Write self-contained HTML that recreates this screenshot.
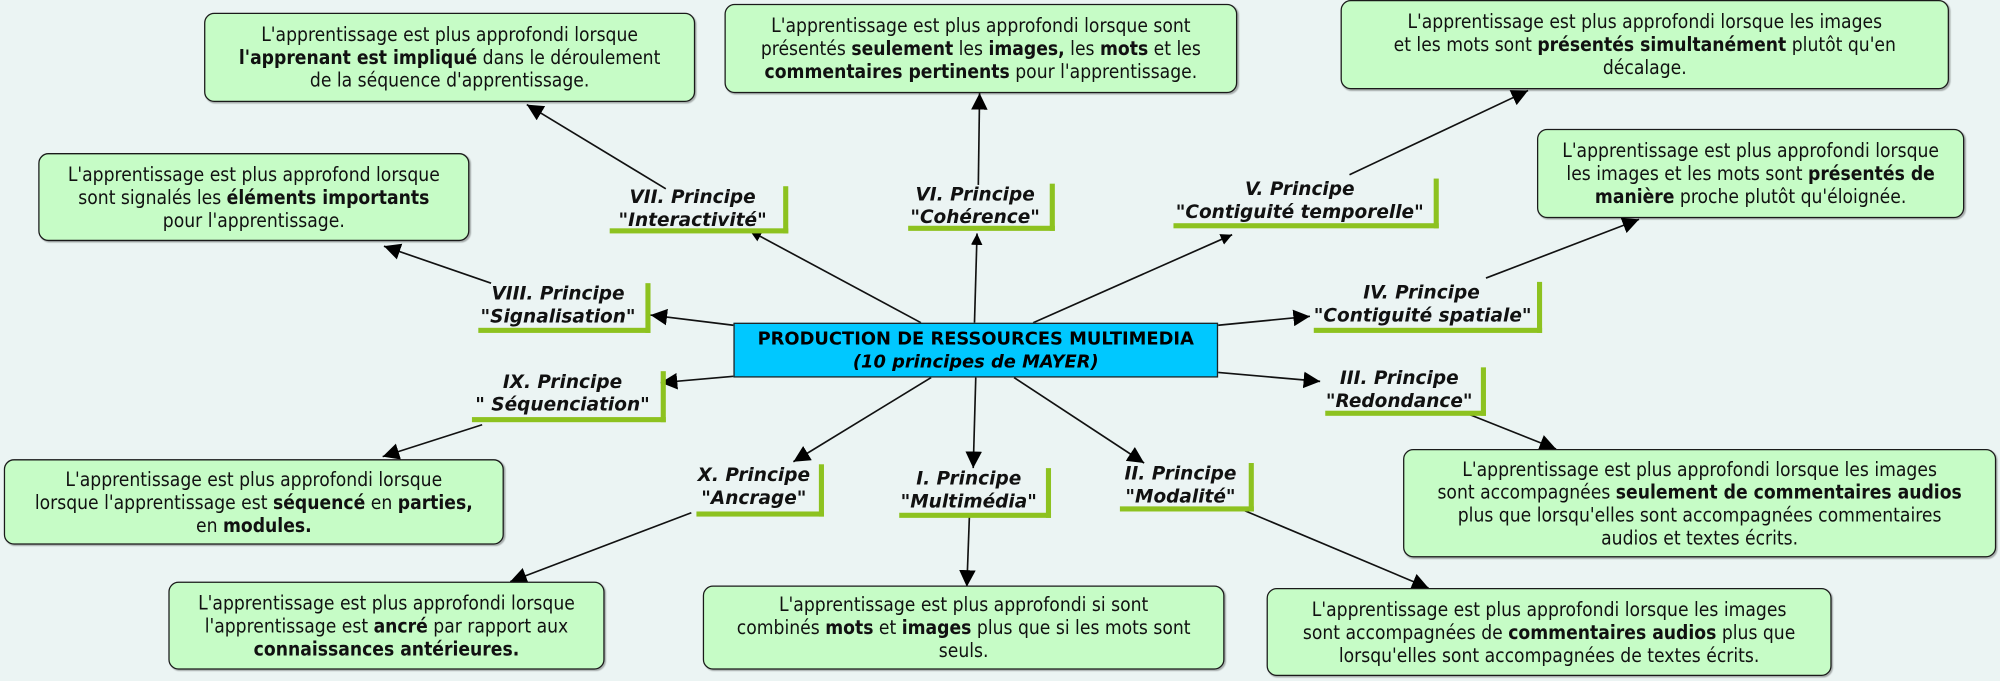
<!DOCTYPE html>
<html><head><meta charset="utf-8"><style>
html,body{margin:0;padding:0;background:#ebf4f3;}
#wrap{position:relative;width:1568px;height:534px;transform:scale(1.27551);transform-origin:0 0;overflow:hidden;}
.box{position:absolute;box-sizing:border-box;border:1.3px solid #1a1a1a;border-radius:8px;background:#c6fcc6;display:flex;align-items:center;justify-content:center;text-align:center;font-family:"DejaVu Sans Condensed","Liberation Sans Narrow","Liberation Sans",sans-serif;font-size:15px;line-height:18px;color:#111;white-space:nowrap;box-shadow:1px 1px 1px rgba(0,0,0,0.3);}
.lab{position:absolute;box-sizing:border-box;border-right:4px solid #8dc21f;border-bottom:4px solid #8dc21f;font-family:"DejaVu Sans","Liberation Sans",sans-serif;font-weight:bold;font-style:italic;font-size:14.5px;line-height:18px;text-align:center;color:#111;white-space:nowrap;padding-right:6px;}
#center{position:absolute;left:575px;top:253px;width:380px;height:43px;box-sizing:border-box;background:#00c8ff;border:1.3px solid #222;text-align:center;font-family:"DejaVu Sans","Liberation Sans",sans-serif;font-weight:bold;font-size:14px;line-height:18px;padding-top:3px;white-space:nowrap;}
svg{position:absolute;left:0;top:0;}
</style></head><body><div id="wrap">
<svg width="1568" height="534" viewBox="0 0 1568 534">
<defs><marker id="a" viewBox="0 0 10 10" refX="10" refY="5" markerWidth="9" markerHeight="9" markerUnits="userSpaceOnUse" orient="auto"><path d="M0,0 L10,5 L0,10z" fill="#000"/></marker>
<marker id="b" viewBox="0 0 10 10" refX="10" refY="5" markerWidth="13" markerHeight="13" markerUnits="userSpaceOnUse" orient="auto"><path d="M0,0 L10,5 L0,10z" fill="#000"/></marker></defs>
<g stroke="#111" stroke-width="1.3" fill="none">
<line x1="722" y1="253" x2="588" y2="181" marker-end="url(#a)"/>
<line x1="764" y1="253" x2="766" y2="183" marker-end="url(#a)"/>
<line x1="810" y1="253" x2="966" y2="184" marker-end="url(#a)"/>
<line x1="575" y1="255" x2="510" y2="247" marker-end="url(#b)"/>
<line x1="955" y1="255" x2="1027" y2="248" marker-end="url(#b)"/>
<line x1="575" y1="295" x2="518" y2="300" marker-end="url(#b)"/>
<line x1="955" y1="292" x2="1035" y2="299" marker-end="url(#b)"/>
<line x1="730" y1="296" x2="622" y2="362" marker-end="url(#b)"/>
<line x1="765" y1="296" x2="763" y2="367" marker-end="url(#b)"/>
<line x1="795" y1="296" x2="897" y2="363" marker-end="url(#b)"/>
<line x1="522" y1="148" x2="413" y2="82" marker-end="url(#b)"/>
<line x1="767" y1="145" x2="768" y2="73" marker-end="url(#b)"/>
<line x1="1058" y1="137" x2="1198" y2="71" marker-end="url(#b)"/>
<line x1="385" y1="222" x2="301" y2="193" marker-end="url(#b)"/>
<line x1="1165" y1="218" x2="1285" y2="172" marker-end="url(#b)"/>
<line x1="378" y1="333" x2="300" y2="358" marker-end="url(#b)"/>
<line x1="1152" y1="325" x2="1220" y2="352" marker-end="url(#b)"/>
<line x1="542" y1="402" x2="400" y2="456" marker-end="url(#b)"/>
<line x1="760" y1="405" x2="758" y2="460" marker-end="url(#b)"/>
<line x1="975" y1="400" x2="1120" y2="461" marker-end="url(#b)"/>
</g></svg>

<div class="box" style="left:160px;top:10px;width:385px;height:70px;"><div>L'apprentissage est plus approfondi lorsque<br><b>l'apprenant est impliqué</b> dans le déroulement<br>de la séquence d'apprentissage.</div></div>
<div class="box" style="left:568px;top:3px;width:402px;height:70px;"><div>L'apprentissage est plus approfondi lorsque sont<br>présentés <b>seulement</b> les <b>images,</b> les <b>mots</b> et les<br><b>commentaires pertinents</b> pour l'apprentissage.</div></div>
<div class="box" style="left:1051px;top:0px;width:477px;height:70px;"><div>L'apprentissage est plus approfondi lorsque les images<br>et les mots sont <b>présentés simultanément</b> plutôt qu'en<br>décalage.</div></div>
<div class="box" style="left:1205px;top:101px;width:335px;height:70px;"><div>L'apprentissage est plus approfondi lorsque<br>les images et les mots sont <b>présentés de<br>manière</b> proche plutôt qu'éloignée.</div></div>
<div class="box" style="left:30px;top:120px;width:338px;height:69px;"><div>L'apprentissage est plus approfond lorsque<br>sont signalés les <b>éléments importants</b><br>pour l'apprentissage.</div></div>
<div class="box" style="left:1100px;top:352px;width:465px;height:85px;"><div>L'apprentissage est plus approfondi lorsque les images<br>sont accompagnées <b>seulement de commentaires audios</b><br>plus que lorsqu'elles sont accompagnées commentaires<br>audios et textes écrits.</div></div>
<div class="box" style="left:3px;top:360px;width:392px;height:67px;"><div>L'apprentissage est plus approfondi lorsque<br>lorsque l'apprentissage est <b>séquencé</b> en <b>parties,</b><br>en <b>modules.</b></div></div>
<div class="box" style="left:132px;top:456px;width:342px;height:69px;"><div>L'apprentissage est plus approfondi lorsque<br>l'apprentissage est <b>ancré</b> par rapport aux<br><b>connaissances antérieures.</b></div></div>
<div class="box" style="left:551px;top:459px;width:409px;height:66px;"><div>L'apprentissage est plus approfondi si sont<br>combinés <b>mots</b> et <b>images</b> plus que si les mots sont<br>seuls.</div></div>
<div class="box" style="left:993px;top:461px;width:443px;height:69px;"><div>L'apprentissage est plus approfondi lorsque les images<br>sont accompagnées de <b>commentaires audios</b> plus que<br>lorsqu'elles sont accompagnées de textes écrits.</div></div>

<div id="center">PRODUCTION DE RESSOURCES MULTIMEDIA<br><i>(10 principes de MAYER)</i></div>

<div class="lab" style="left:478px;top:146px;width:140px;height:37px;">VII. Principe<br>"Interactivité"</div>
<div class="lab" style="left:712px;top:144px;width:115px;height:37px;">VI. Principe<br>"Cohérence"</div>
<div class="lab" style="left:920px;top:140px;width:208px;height:39px;">V. Principe<br>"Contiguité temporelle"</div>
<div class="lab" style="left:375px;top:222px;width:135px;height:39px;">VIII. Principe<br>"Signalisation"</div>
<div class="lab" style="left:1030px;top:221px;width:179px;height:40px;">IV. Principe<br>"Contiguité spatiale"</div>
<div class="lab" style="left:370px;top:291px;width:152px;height:40px;">IX. Principe<br>" Séquenciation"</div>
<div class="lab" style="left:1039px;top:288px;width:126px;height:38px;">III. Principe<br>"Redondance"</div>
<div class="lab" style="left:546px;top:364px;width:100px;height:41px;">X. Principe<br>"Ancrage"</div>
<div class="lab" style="left:705px;top:367px;width:119px;height:39px;">I. Principe<br>"Multimédia"</div>
<div class="lab" style="left:878px;top:363px;width:105px;height:38px;">II. Principe<br>"Modalité"</div>
</div></body></html>
